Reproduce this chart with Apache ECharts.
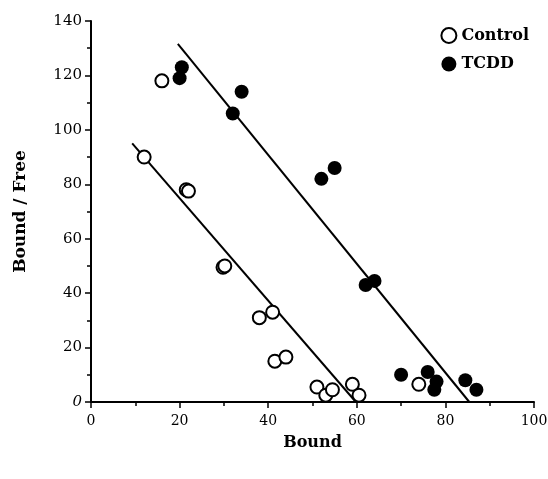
<!DOCTYPE html>
<html>
<head>
<meta charset="utf-8">
<script src="https://cdn.jsdelivr.net/npm/echarts@6/dist/echarts.min.js"></script>
<style>
  html, body { margin: 0; padding: 0; background: #fff; }
  #chart { width: 548px; height: 479px; }
</style>
</head>
<body>
<div id="chart"></div>
<script>
// Scatchard plot data: [Bound, Bound/Free]
var controlPoints = [
  [12, 90], [16, 118], [21.5, 78], [22, 77.5], [29.8, 49.5], [30.2, 50],
  [38, 31], [41, 33], [41.5, 15], [44, 16.5], [51, 5.5], [53, 2.5],
  [54.5, 4.5], [59, 6.5], [60.5, 2.5], [74, 6.5]
];
var tcddPoints = [
  [20.5, 123], [20, 119], [32, 106], [34, 114], [52, 82], [55, 86],
  [62, 43], [64, 44.5], [70, 10], [76, 11], [78, 7.5], [77.5, 4.5],
  [84.5, 8], [87, 4.5]
];
// fitted regression lines (end points)
var controlFit = [[9.3, 95], [59.8, 0]];
var tcddFit = [[19.6, 131.6], [85.4, 0]];

var font = "'DejaVu Serif', 'Liberation Serif', serif";

var chart = echarts.init(document.getElementById("chart"));
chart.setOption({
  animation: false,
  backgroundColor: "#fff",
  grid: { left: 91, right: 14, top: 21, bottom: 77, containLabel: false, outerBoundsMode: "none" },
  legend: {
    orient: "vertical",
    right: 14,
    top: 22,
    itemWidth: 15,
    itemHeight: 15,
    itemGap: 12,
    data: ["Control", "TCDD"],
    textStyle: { fontFamily: font, fontWeight: "bold", fontSize: 16, color: "#000" }
  },
  xAxis: {
    type: "value",
    min: 0, max: 100, interval: 20,
    name: "Bound",
    nameLocation: "middle",
    nameGap: 33,
    nameTextStyle: { fontFamily: font, fontWeight: "bold", fontSize: 16, color: "#000" },
    axisLine: { lineStyle: { color: "#000", width: 2 } },
    axisTick: { inside: false, length: 6, lineStyle: { color: "#000", width: 1.5 } },
    minorTick: { show: true, splitNumber: 2, length: 4, lineStyle: { color: "#000", width: 1.5 } },
    splitLine: { show: false },
    axisLabel: { fontFamily: font, fontSize: 14, color: "#000", margin: 12 }
  },
  yAxis: {
    type: "value",
    min: 0, max: 140, interval: 20,
    name: "Bound / Free",
    nameLocation: "middle",
    nameGap: 62,
    nameTextStyle: { fontFamily: font, fontWeight: "bold", fontSize: 17, color: "#000" },
    axisLine: { show: true, lineStyle: { color: "#000", width: 2 } },
    axisTick: { show: true, length: 6, lineStyle: { color: "#000", width: 1.5 } },
    minorTick: { show: true, splitNumber: 2, length: 4, lineStyle: { color: "#000", width: 1.5 } },
    splitLine: { show: false },
    axisLabel: {
      fontFamily: font, fontSize: 15, color: "#000", margin: 9,
      formatter: function (v) { return v === 0 ? "{i|0}" : String(v); },
      rich: { i: { fontFamily: font, fontSize: 15, fontStyle: "italic", color: "#000" } }
    }
  },
  series: [
    {
      name: "ControlFit",
      type: "line",
      data: controlFit,
      symbol: "none",
      lineStyle: { color: "#000", width: 2 },
      z: 1
    },
    {
      name: "TCDDFit",
      type: "line",
      data: tcddFit,
      symbol: "none",
      lineStyle: { color: "#000", width: 2 },
      z: 1
    },
    {
      name: "Control",
      type: "scatter",
      data: controlPoints,
      symbol: "circle",
      symbolSize: 13,
      itemStyle: { color: "#fff", borderColor: "#000", borderWidth: 2, opacity: 1 },
      z: 3
    },
    {
      name: "TCDD",
      type: "scatter",
      data: tcddPoints,
      symbol: "circle",
      symbolSize: 14,
      itemStyle: { color: "#000", borderColor: "#000", borderWidth: 0, opacity: 1 },
      z: 3
    }
  ]
});
</script>
</body>
</html>
